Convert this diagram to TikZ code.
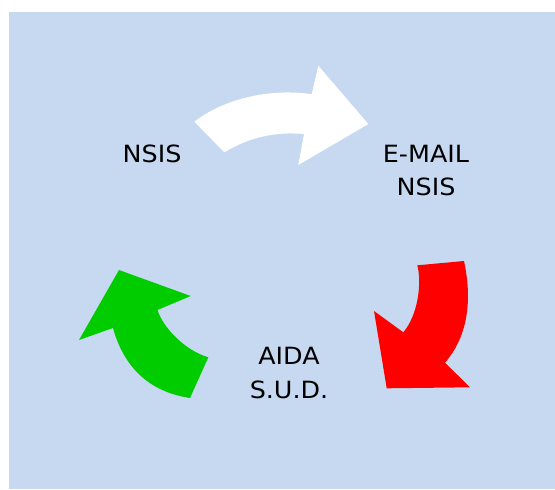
\documentclass[tikz,border=0pt]{standalone}
\usepackage{fontspec}
\newfontfamily\vfont[FakeStretch=1.07]{DejaVu Sans}
\definecolor{bgblue}{HTML}{C6D9F0}
\definecolor{arrgreen}{HTML}{00CC00}
\definecolor{arrred}{HTML}{FF0000}
\begin{document}
\begin{tikzpicture}[x=0.75pt,y=-0.75pt,
  lbl/.style={font=\vfont\fontsize{17.8}{25}\selectfont, align=center, anchor=base, inner sep=0pt, text=black}]
\useasboundingbox (0,0) rectangle (555,489);
\fill[bgblue] (8.5,12) rectangle (555,489);
% white arrow
\fill[white] (194.3,121.7) .. controls (225,98) and (272,88) .. (311.7,94.3)
  -- (318.3,65.7) -- (368.3,124) -- (298.3,165) -- (304,134)
  .. controls (275,131.5) and (249.3,137.3) .. (224.3,152.3) -- cycle;
% red arrow
\fill[arrred] (417.3,265.3) -- (464,261) .. controls (472,298) and (469,335) .. (445,362.7)
  -- (470,387.3) -- (386.7,388.3) -- (374,311) -- (403.3,332.3)
  .. controls (418,315) and (422,283) .. (417.3,265.3) -- cycle;
% green arrow
\fill[arrgreen] (119,270) -- (190.7,296) -- (157.5,310)
  .. controls (163,328) and (186,351) .. (208.3,357.3)
  -- (190,398) .. controls (150,392) and (124,368) .. (113,328)
  -- (79,340) -- cycle;
\node[lbl] (nsis) at (152,162.3) {NSIS};
\node[lbl] (email) at (426,195.7) {E-MAIL\\NSIS};
\node[lbl] (aida) at (289,398.3) {AIDA\\S.U.D.};
\end{tikzpicture}
\end{document}
